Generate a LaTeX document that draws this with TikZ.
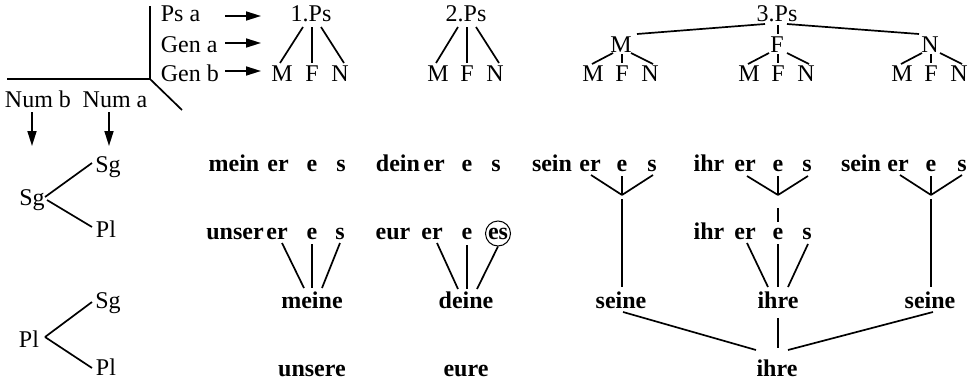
\documentclass[tikz,border=0pt]{standalone}
\usepackage{fontspec}
\setmainfont{Liberation Serif}
\usetikzlibrary{arrows.meta}
\newcommand\lnk[4]{\draw ([shift={#2}]#1.base) -- ([shift={#4}]#3.base);}
\newcommand\tojn[3]{\draw ([shift={#2}]#1.base) -- (#3);}
\begin{document}
\begin{tikzpicture}[x=1pt,y=-1pt,
  every node/.style={inner sep=0pt,anchor=base,font=\fontsize{24}{28}\selectfont},
  bf/.style={font=\fontsize{24}{28}\selectfont\bfseries},
  every path/.style={line width=1.7pt},
  arr/.style={-{Triangle[length=15pt,width=9pt]}},
  ring/.style={draw,circle,line width=1pt,minimum size=25pt,anchor=center}]
\useasboundingbox (0,0) rectangle (972,383);
% corner
\coordinate (cn) at (150,79);
\draw (150,6) -- (cn) -- (7,79);
\draw (cn) -- (182,110);
% labels top-left
\node[anchor=base west] (psa) at (160,21) {Ps a};
\node[anchor=base west] (gena) at (160,52) {Gen a};
\node[anchor=base west] (genb) at (160,81) {Gen b};
\coordinate (a1) at (225,16); \coordinate (b1) at (261,16);
\coordinate (a2) at (225,43); \coordinate (b2) at (261,43);
\coordinate (a3) at (225,71); \coordinate (b3) at (261,71);
\draw[arr] (a1) -- (b1);
\draw[arr] (a2) -- (b2);
\draw[arr] (a3) -- (b3);
\node (numb) at (38,107) {Num b};
\node (numa) at (115,107) {Num a};
\coordinate (c1) at (32,112); \coordinate (d1) at (32,146);
\coordinate (c2) at (109,112); \coordinate (d2) at (109,146);
\draw[arr] (c1) -- (d1);
\draw[arr] (c2) -- (d2);
% person trees
\node (p1) at (311,21) {1.Ps};
\node (m1) at (282,81) {M};
\node (f1) at (312,81) {F};
\node (n1) at (340,81) {N};
\lnk{p1}{(-8,6)}{m1}{(-2,-18)}
\lnk{p1}{(1,6)}{f1}{(0,-18)}
\lnk{p1}{(10,6)}{n1}{(4,-18)}
\node (p2) at (466,21) {2.Ps};
\node (m2) at (438,81) {M};
\node (f2) at (467,81) {F};
\node (n2) at (495,81) {N};
\lnk{p2}{(-8,6)}{m2}{(-2,-18)}
\lnk{p2}{(1,6)}{f2}{(0,-18)}
\lnk{p2}{(10,6)}{n2}{(4,-18)}
\node (p3) at (777,21) {3.Ps};
\node (mm) at (621,52) {M};
\node (mf) at (777,52) {F};
\node (mn) at (930,52) {N};
\lnk{p3}{(-12,3)}{mm}{(16,-18)}
\lnk{p3}{(1,4)}{mf}{(1,-18)}
\lnk{p3}{(10,3)}{mn}{(-11,-18)}
\foreach \r/\c in {mm/621,mf/777,mn/930}{
  \node (\r M) at (\c-28,81) {M};
  \node (\r F) at (\c+1,81) {F};
  \node (\r N) at (\c+29,81) {N};
  \lnk{\r}{(-8,1)}{\r M}{(-1,-17)}
  \lnk{\r}{(1,2)}{\r F}{(0,-18)}
  \lnk{\r}{(10,1)}{\r N}{(3,-17)}
}
% number trees
\node (rs) at (32,205) {Sg};
\node (ts) at (108,172) {Sg};
\node (tp) at (106,237) {Pl};
\lnk{rs}{(13,-8)}{ts}{(-16,-9)}
\lnk{rs}{(15,-5)}{tp}{(-14,-10)}
\node (rp) at (29,347) {Pl};
\node (ts2) at (108,308) {Sg};
\node (tp2) at (106,375) {Pl};
\lnk{rp}{(16,-10)}{ts2}{(-16,-6)}
\lnk{rp}{(16,-10)}{tp2}{(-14,-7)}
% row 1
\begin{scope}[every node/.append style={bf}]
\node (mein) at (234,171) {mein};
\node (aer) at (278,171) {er};
\node (ae) at (312,171) {e};
\node (as) at (341,171) {s};
\node (dein) at (398,171) {dein};
\node (ber) at (434,171) {er};
\node (be) at (467,171) {e};
\node (bs) at (496,171) {s};
\node (sein) at (552,171) {sein};
\node (cer) at (590,171) {er};
\node (ce) at (622,171) {e};
\node (cs) at (652,171) {s};
\node (ihr) at (709,171) {ihr};
\node (der) at (745,171) {er};
\node (de) at (778,171) {e};
\node (ds) at (807,171) {s};
\node (seinb) at (861,171) {sein};
\node (eer) at (898,171) {er};
\node (ee) at (931,171) {e};
\node (es) at (962,171) {s};
% row 2
\node (unser) at (235,239) {unser};
\node (fer) at (277,239) {er};
\node (fe) at (312,239) {e};
\node (fs) at (340,239) {s};
\node (eur) at (393,239) {eur};
\node (ger) at (432,239) {er};
\node (ge) at (467,239) {e};
\node (ges) at (498,239) {es};
\node (ihrb) at (709,239) {ihr};
\node (her) at (745,239) {er};
\node (he) at (778,239) {e};
\node (hs) at (807,239) {s};
% row 3
\node (meine) at (312,308) {meine};
\node (deine) at (466,308) {deine};
\node (seine) at (621,308) {seine};
\node (ihre) at (778,308) {ihre};
\node (seineb) at (930,308) {seine};
% row 4
\node (unsere) at (312,376) {unsere};
\node (eure) at (466,376) {eure};
\node (ihreb) at (777,376) {ihre};
\end{scope}
\node[ring] (ring) at ([yshift=5.5pt]ges.base) {};
% row2 -> row3
\lnk{fer}{(5,4)}{meine}{(-8,-20)}
\lnk{fe}{(0,5)}{meine}{(0,-20)}
\lnk{fs}{(0,4)}{meine}{(10,-20)}
\lnk{ger}{(5,4)}{deine}{(-8,-19)}
\lnk{ge}{(0,6)}{deine}{(1,-19)}
\draw (ring.south) -- ([shift={(11,-19)}]deine.base);
\lnk{her}{(2,4)}{ihre}{(-10,-21)}
\lnk{he}{(0,5)}{ihre}{(0,-21)}
\lnk{hs}{(1,5)}{ihre}{(10,-21)}
% row1 junctions
\coordinate (j1) at (622,195);
\coordinate (j2) at (778,195);
\coordinate (j3) at (931,195);
\tojn{cer}{(1,4)}{j1}
\tojn{ce}{(0,5)}{j1}
\tojn{cs}{(1,4)}{j1}
\tojn{der}{(2,5)}{j2}
\tojn{de}{(0,5)}{j2}
\tojn{ds}{(1,5)}{j2}
\tojn{eer}{(2,4)}{j3}
\tojn{ee}{(0,5)}{j3}
\tojn{es}{(0,4)}{j3}
\draw ([yshift=-4pt]j1) -- ([shift={(1,-21)}]seine.base);
\draw ([yshift=-13pt]j2) -- ([shift={(0,-17)}]he.base);
\draw ([yshift=-4pt]j3) -- ([shift={(1,-21)}]seineb.base);
% row3 -> row4
\lnk{seine}{(2,4)}{ihreb}{(-21,-26)}
\lnk{ihre}{(0,10)}{ihreb}{(1,-28)}
\lnk{seineb}{(3,4)}{ihreb}{(11,-26)}
\end{tikzpicture}
\end{document}
